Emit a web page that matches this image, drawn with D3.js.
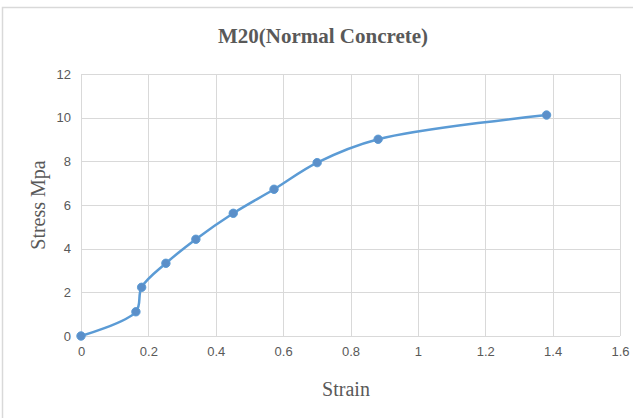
<!DOCTYPE html>
<html>
<head>
<meta charset="utf-8">
<script src="https://cdn.jsdelivr.net/npm/d3@7"></script>
<style>
  html, body { margin: 0; padding: 0; background: #fff; }
  svg { display: block; }
</style>
</head>
<body>
<script>
// Stress–strain readings for M20 normal concrete
const strain = [0, 0.163, 0.18, 0.252, 0.341, 0.452, 0.573, 0.701, 0.882, 1.382];
const stress = [0, 1.11, 2.23, 3.33, 4.43, 5.62, 6.72, 7.94, 9.01, 10.12];
const xTicks = [0, 0.2, 0.4, 0.6, 0.8, 1, 1.2, 1.4, 1.6];
const yTicks = [0, 2, 4, 6, 8, 10, 12];
const titleText = "M20(Normal Concrete)";
const xTitle = "Strain";
const yTitle = "Stress Mpa";

const W = 633, H = 418;
const m = { left: 81, right: 13, top: 74, bottom: 82 };
const svg = d3.select("body").append("svg").attr("width", W).attr("height", H);

// chart frame
svg.append("path")
  .attr("d", `M2.5,${H} V7.5 H${W}`)
  .attr("fill", "none").attr("stroke", "#d9d9d9").attr("stroke-width", 1.5);

const x = d3.scaleLinear().domain([0, 1.6]).range([m.left, W - m.right]);
const y = d3.scaleLinear().domain([0, 12]).range([H - m.bottom, m.top]);

// gridlines
const g = svg.append("g");
g.selectAll("line.v").data(xTicks).join("line")
  .attr("x1", d => Math.round(x(d)) + 0.5).attr("x2", d => Math.round(x(d)) + 0.5)
  .attr("y1", y(12)).attr("y2", y(0))
  .attr("stroke", "#d9d9d9").attr("stroke-width", 1);
g.selectAll("line.h").data(yTicks).join("line")
  .attr("y1", d => Math.round(y(d)) + 0.5).attr("y2", d => Math.round(y(d)) + 0.5)
  .attr("x1", x(0)).attr("x2", x(1.6))
  .attr("stroke", "#d9d9d9").attr("stroke-width", 1);

// axes (labels only)
const fmt = d => d3.format("~g")(d);
const xAxis = svg.append("g").attr("transform", `translate(0,${y(0)})`)
  .call(d3.axisBottom(x).tickValues(xTicks).tickFormat(fmt).tickSize(0).tickPadding(11));
const yAxis = svg.append("g").attr("transform", `translate(${x(0)},0)`)
  .call(d3.axisLeft(y).tickValues(yTicks).tickFormat(fmt).tickSize(0).tickPadding(10));
[xAxis, yAxis].forEach(a => {
  a.select(".domain").remove();
  a.selectAll("text")
    .attr("fill", "#595959")
    .style("font-family", "'Liberation Sans', Arial, sans-serif")
    .style("font-size", "13px");
});

// series
const pts = strain.map((s, i) => [s, stress[i]]);
const line = d3.line().x(d => x(d[0])).y(d => y(d[1])).curve(d3.curveCatmullRom.alpha(0.5));
svg.append("path").datum(pts)
  .attr("d", line)
  .attr("fill", "none").attr("stroke", "#5b9bd5").attr("stroke-width", 2.5)
  .attr("stroke-linejoin", "round");
svg.selectAll("circle.pt").data(pts).join("circle")
  .attr("cx", d => x(d[0])).attr("cy", d => y(d[1])).attr("r", 4.2)
  .attr("fill", "#5b8fc9").attr("stroke", "#5b9bd5").attr("stroke-width", 1);

// titles
const serif = "'Liberation Serif', 'Times New Roman', serif";
svg.append("text").attr("x", 323).attr("y", 43).attr("text-anchor", "middle")
  .attr("fill", "#595959").style("font-family", serif).style("font-size", "21px")
  .style("font-weight", "bold").text(titleText);
svg.append("text").attr("x", 346).attr("y", 396).attr("text-anchor", "middle")
  .attr("fill", "#595959").style("font-family", serif).style("font-size", "20px")
  .text(xTitle);
svg.append("text").attr("transform", `translate(45,${y(6)}) rotate(-90)`)
  .attr("text-anchor", "middle")
  .attr("fill", "#595959").style("font-family", serif).style("font-size", "20px")
  .text(yTitle);
</script>
</body>
</html>
